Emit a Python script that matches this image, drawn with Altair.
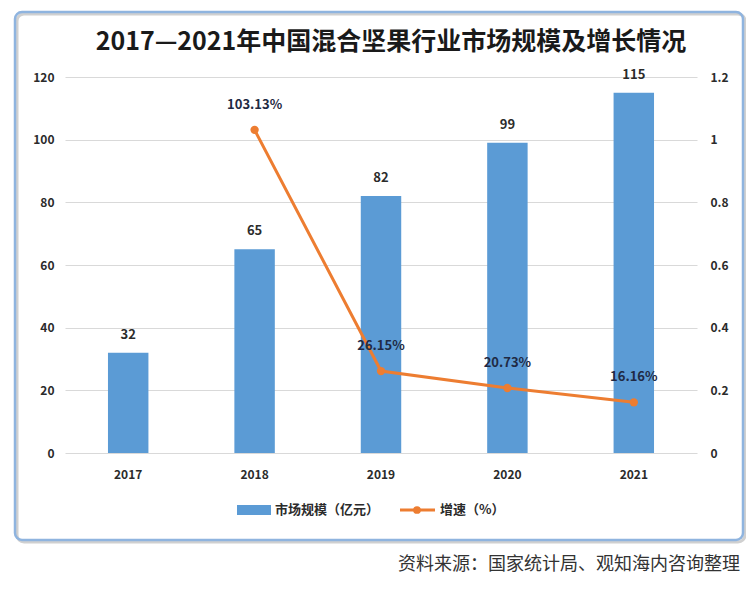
import altair as alt
import pandas as pd

years = ["2017", "2018", "2019", "2020", "2021"]
market_size = [32, 65, 82, 99, 115]
growth = [None, 1.0313, 0.2615, 0.2073, 0.1616]
growth_labels = ["", "103.13%", "26.15%", "20.73%", "16.16%"]

title_text = "2017—2021年中国混合坚果行业市场规模及增长情况"
legend_bar = "市场规模（亿元）"
legend_line = "增速（%）"
source_text = "资料来源：国家统计局、观知海内咨询整理"

BLUE = "#5B9BD5"
ORANGE = "#ED7D31"
FONT = "Noto Sans CJK SC"
LABEL = "#2B2B2B"

df = pd.DataFrame({"year": years, "size": market_size, "growth": growth, "glabel": growth_labels})
one = pd.DataFrame({"a": [0]})

xaxis = alt.Axis(labelAngle=0, labelFontWeight="bold", labelFontSize=12, labelColor=LABEL,
                 domain=False, ticks=False, labelPadding=16, labelFont=FONT)
xenc = alt.X("year:N", sort=years, title=None,
             scale=alt.Scale(paddingInner=0.68, paddingOuter=0.34), axis=xaxis)

laxis = alt.Axis(values=[0, 20, 40, 60, 80, 100, 120], labelFontWeight="bold", labelFontSize=12,
                 labelColor=LABEL, domain=False, ticks=False, labelPadding=11,
                 grid=True, gridColor="#D9D9D9", labelFont=FONT)
ly = alt.Y("size:Q", title=None, scale=alt.Scale(domain=[0, 120]), axis=laxis)

raxis = alt.Axis(orient="right", values=[0, 0.2, 0.4, 0.6, 0.8, 1.0, 1.2], format="~g",
                 labelFontWeight="bold", labelFontSize=12, labelColor=LABEL,
                 domain=False, ticks=False, labelPadding=13, grid=False, labelFont=FONT)
gy = alt.Y("growth:Q", title=None, scale=alt.Scale(domain=[0, 1.2]), axis=raxis)

base = alt.Chart(df)

bars = base.mark_bar(color=BLUE).encode(x=xenc, y=ly)
bar_text = base.mark_text(dy=-18, fontSize=13, fontWeight="bold", color=LABEL, font=FONT).encode(
    x=xenc, y=ly, text="size:Q")
left = alt.layer(bars, bar_text)

line = base.mark_line(color=ORANGE, strokeWidth=3).encode(x=xenc, y=gy)
pts = base.mark_point(color=ORANGE, filled=True, size=70, opacity=1).encode(x=xenc, y=gy)
ptext = base.transform_filter("datum.glabel != ''").mark_text(
    dy=-25, fontSize=13, fontWeight="bold", color="#1F2A44", font=FONT).encode(
    x=xenc, y=gy, text="glabel:N")
right = alt.layer(line, pts, ptext)

d = alt.Chart(one)
shadow = d.mark_rect(fillOpacity=0, stroke="#D0D0D0", strokeWidth=3, cornerRadius=7).encode(
    x=alt.value(-48), x2=alt.value(680), y=alt.value(-63), y2=alt.value(465))
border = d.mark_rect(fillOpacity=0, stroke="#8FB4DF", strokeWidth=2.5, cornerRadius=7).encode(
    x=alt.value(-50), x2=alt.value(678), y=alt.value(-65), y2=alt.value(463))
title = d.mark_text(align="center", baseline="middle", fontSize=25, fontWeight="bold", color="#1A1A1A", font=FONT).encode(
    x=alt.value(326), y=alt.value(-35), text=alt.value(title_text))

leg_rect = d.mark_rect(color=BLUE).encode(x=alt.value(172), x2=alt.value(206), y=alt.value(428), y2=alt.value(438))
leg_t1 = d.mark_text(align="left", baseline="middle", fontSize=13, fontWeight="bold", color=LABEL, font=FONT).encode(
    x=alt.value(210), y=alt.value(433), text=alt.value(legend_bar))
leg_line = d.mark_rule(color=ORANGE, strokeWidth=3).encode(x=alt.value(335), x2=alt.value(370), y=alt.value(433))
leg_pt = d.mark_point(color=ORANGE, filled=True, size=60, opacity=1).encode(x=alt.value(352), y=alt.value(433))
leg_t2 = d.mark_text(align="left", baseline="middle", fontSize=13, fontWeight="bold", color=LABEL, font=FONT).encode(
    x=alt.value(375), y=alt.value(433), text=alt.value(legend_line))
src = d.mark_text(align="right", baseline="middle", fontSize=18, color="#333333", font=FONT).encode(
    x=alt.value(675), y=alt.value(488), text=alt.value(source_text))

chart = alt.layer(shadow, border, title, left, right, leg_rect, leg_t1, leg_line, leg_pt, leg_t2, src).resolve_scale(
    y="independent"
).properties(
    width=632, height=376,
    autosize=alt.AutoSizeParams(type="none"),
    padding={"left": 57, "top": 69, "right": 49, "bottom": 128},
).configure_view(stroke=None)

chart.save("out.html", embed_options={"renderer": "svg", "actions": False})
